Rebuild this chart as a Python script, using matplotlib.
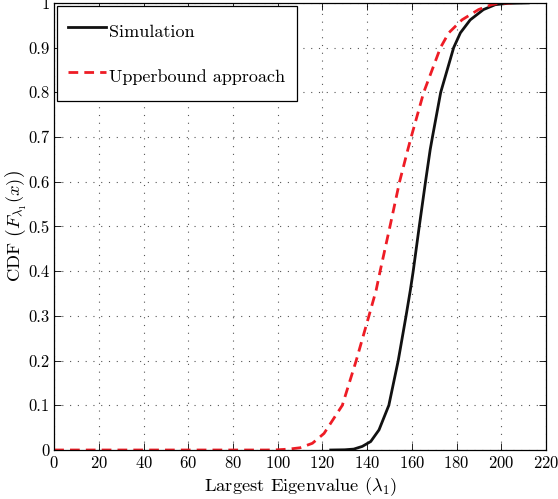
import matplotlib
matplotlib.use('Agg')
import matplotlib.pyplot as plt
import numpy as np

plt.rcParams['font.family'] = ['cmr10']
plt.rcParams['mathtext.fontset'] = 'cm'
plt.rcParams['axes.formatter.use_mathtext'] = True

# values
sim_x = [123.7, 130, 134, 137.8, 141.6, 145.3, 149.7, 153.9, 157.4, 159.3,
         160.6, 163.3, 166.1, 168.2, 169.2, 172.9, 178.7, 181.7, 186.1, 192,
         197.3, 203, 212]
sim_y = [0, 0.0005, 0.002, 0.008, 0.019, 0.045, 0.1, 0.2, 0.3, 0.357,
         0.4, 0.5, 0.6, 0.672, 0.7, 0.8, 0.9, 0.933, 0.962, 0.985,
         0.996, 0.999, 1.0]

ub_x = [0, 20, 40, 60, 80, 95, 100, 105, 110, 115.5, 120.7, 128.9, 135.1,
        140.8, 144.0, 145.8, 150.2, 154.5, 158.2, 159.7, 165.3, 172.8, 176.5,
        182.4, 189.8, 195.6, 198.7, 205]
ub_y = [0, 0, 0, 0, 0, 0, 0.0005, 0.002, 0.005, 0.015, 0.037, 0.1, 0.2,
        0.3, 0.357, 0.4, 0.5, 0.6, 0.672, 0.7, 0.8, 0.9, 0.933,
        0.962, 0.985, 0.996, 0.999, 1.0]

xticks = list(range(0, 221, 20))
yticks = [0, 0.1, 0.2, 0.3, 0.4, 0.5, 0.6, 0.7, 0.8, 0.9, 1]
ytick_labels = ['0', '0.1', '0.2', '0.3', '0.4', '0.5', '0.6', '0.7', '0.8', '0.9', '1']

fig = plt.figure(figsize=(5.58, 4.99), dpi=100)
ax = fig.add_axes([0.0971, 0.0982, 0.8814, 0.896])

ax.plot(sim_x, sim_y, color='#111111', lw=2, label='Simulation')
ax.plot(ub_x, ub_y, color='#ee1c25', lw=2, dashes=(3.5, 2.2), label='Upperbound approach')

ax.set_xlim(0, 220)
ax.set_ylim(0, 1)
ax.set_xticks(xticks)
ax.set_yticks(yticks)
ax.set_yticklabels(ytick_labels)
ax.tick_params(direction='in', top=True, right=True, labelsize=12, length=5, width=0.6)
ax.grid(True, linestyle=(0, (1, 6)), color='#555555', lw=0.8)
for s in ax.spines.values():
    s.set_linewidth(0.9)

ax.set_xlabel(r'Largest Eigenvalue ($\lambda_1$)', fontsize=13.3, labelpad=3)
ax.set_ylabel(r'CDF $\left(F_{\lambda_1}(x)\right)$', fontsize=13.3)
ax.yaxis.set_label_coords(-0.053, 0.5)

leg = ax.legend(loc='upper left', fontsize=13, labelspacing=1.0, handlelength=2.1,
                handleheight=1.95, handletextpad=0.17, borderpad=0.62, fancybox=False,
                framealpha=1, edgecolor='black', borderaxespad=0.17)
leg.get_frame().set_linewidth(0.9)

fig.savefig('out.png', dpi=100)
